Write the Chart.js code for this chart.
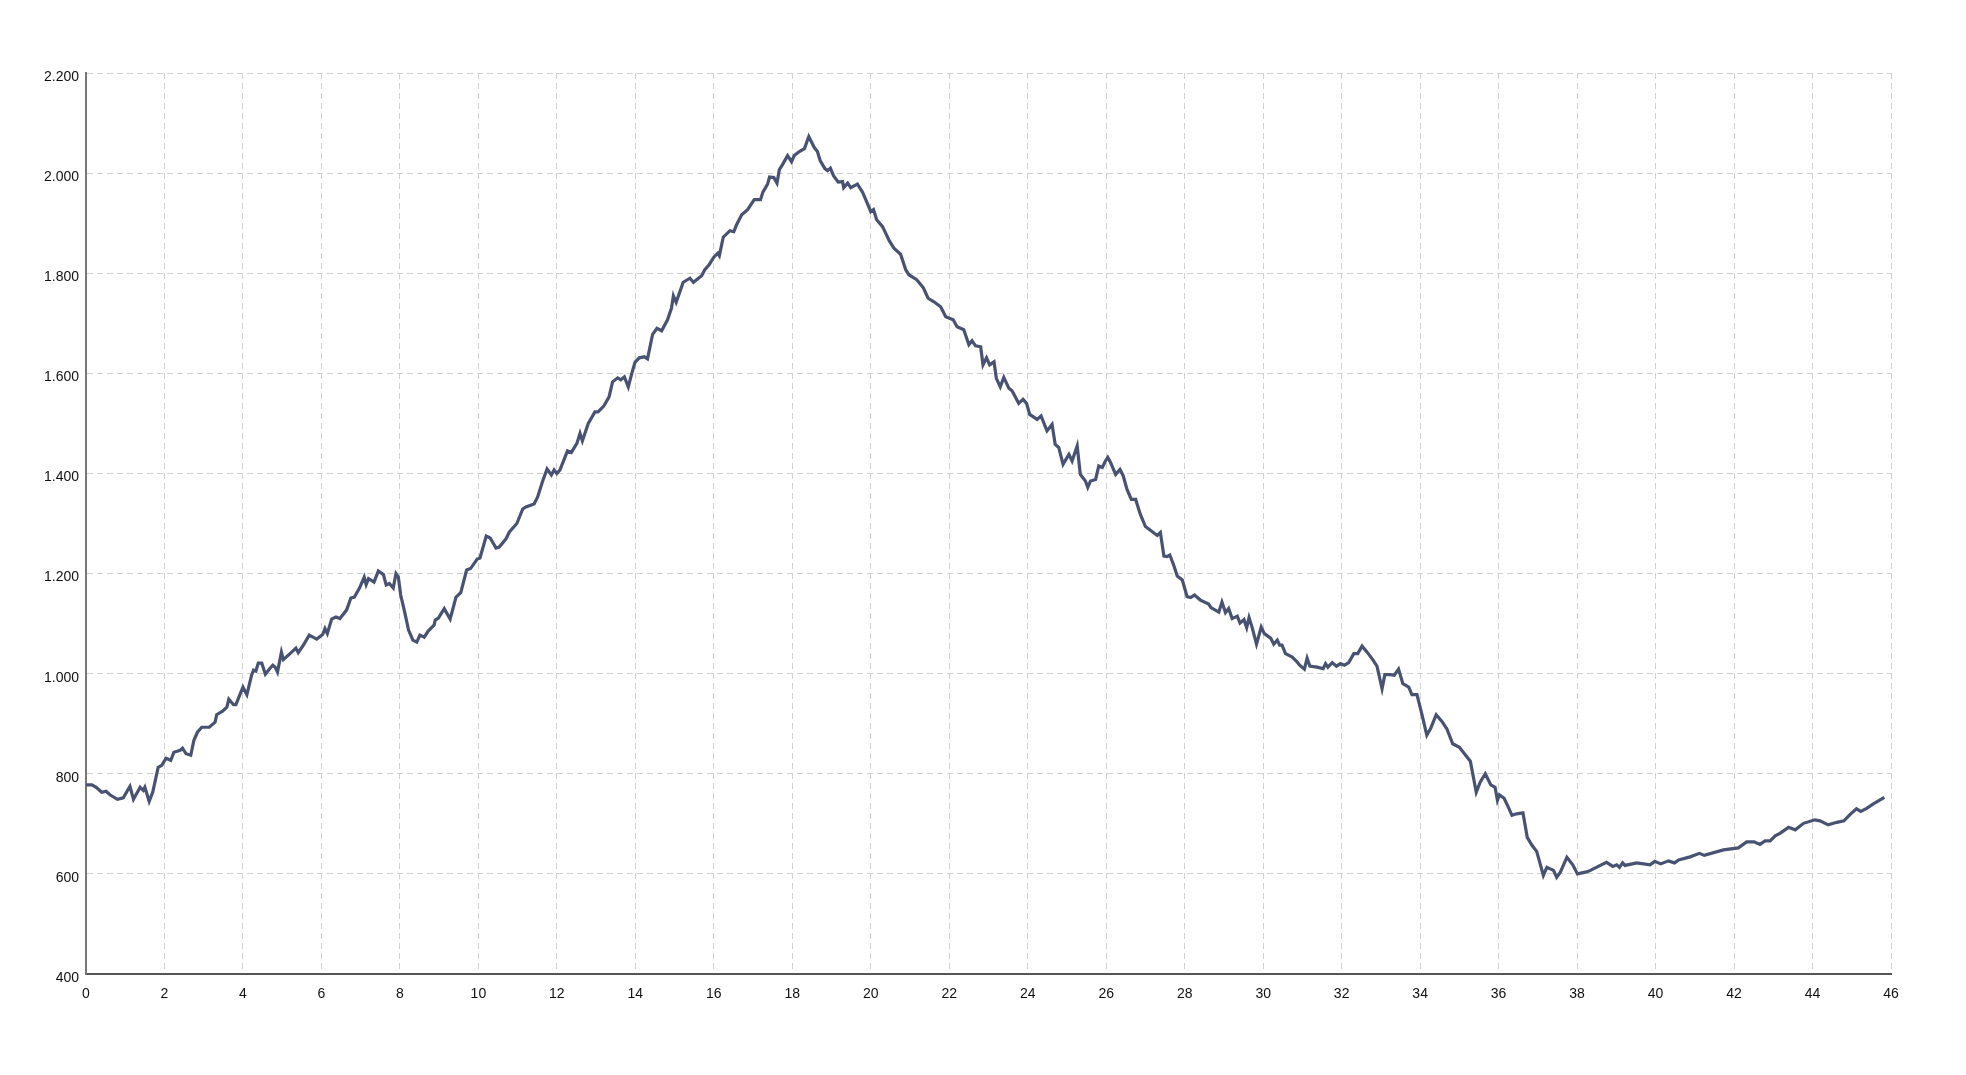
<!DOCTYPE html>
<html>
<head>
<meta charset="utf-8">
<style>
  html, body { margin: 0; padding: 0; background: #fff; }
  #wrap { width: 1966px; height: 1075px; }
</style>
<script src="https://cdn.jsdelivr.net/npm/chart.js@4.4.1/dist/chart.umd.min.js"></script>
</head>
<body>
<div id="wrap"><canvas id="profil"></canvas></div>
<script>
const distanceKm = [
  0, 0.15, 0.26, 0.4, 0.51, 0.61, 0.8, 0.95, 1.12, 1.21, 1.38, 1.46, 1.5, 1.61, 1.7, 1.84, 1.93,
  2.04, 2.16, 2.24, 2.4, 2.46, 2.55, 2.67, 2.75, 2.84, 2.95, 3.14, 3.29, 3.33, 3.48, 3.59, 3.64,
  3.76, 3.82, 4.0, 4.1, 4.22, 4.27, 4.33, 4.39, 4.48, 4.57, 4.69, 4.76, 4.82, 4.88, 4.98, 5.03,
  5.2, 5.35, 5.41, 5.54, 5.69, 5.88, 6.03, 6.09, 6.15, 6.26, 6.37, 6.47, 6.64, 6.75, 6.84, 6.97,
  7.09, 7.14, 7.2, 7.34, 7.45, 7.58, 7.65, 7.73, 7.83, 7.9, 7.96, 8.02, 8.13, 8.22, 8.33, 8.43,
  8.51, 8.62, 8.72, 8.87, 8.9, 8.98, 9.13, 9.28, 9.43, 9.55, 9.7, 9.8, 9.97, 10.04, 10.2, 10.3,
  10.45, 10.53, 10.7, 10.79, 10.98, 11.13, 11.21, 11.42, 11.51, 11.63, 11.75, 11.86, 11.93, 12.0,
  12.08, 12.27, 12.37, 12.51, 12.59, 12.65, 12.8, 12.97, 13.05, 13.2, 13.33, 13.42, 13.55, 13.63,
  13.72, 13.82, 13.9, 13.99, 14.1, 14.23, 14.31, 14.44, 14.55, 14.67, 14.82, 14.92, 14.97, 15.04,
  15.22, 15.39, 15.48, 15.69, 15.77, 15.88, 16.0, 16.1, 16.14, 16.24, 16.41, 16.51, 16.58, 16.71,
  16.86, 17.03, 17.19, 17.25, 17.37, 17.42, 17.53, 17.61, 17.67, 17.75, 17.88, 17.98, 18.05, 18.18,
  18.31, 18.42, 18.56, 18.64, 18.71, 18.83, 18.9, 18.97, 19.05, 19.17, 19.28, 19.31, 19.41, 19.49,
  19.66, 19.79, 19.92, 20.0, 20.07, 20.15, 20.3, 20.47, 20.59, 20.76, 20.89, 20.97, 21.17, 21.34,
  21.46, 21.61, 21.78, 21.91, 22.1, 22.2, 22.37, 22.5, 22.58, 22.67, 22.8, 22.86, 22.95, 23.03,
  23.14, 23.2, 23.3, 23.39, 23.52, 23.6, 23.77, 23.88, 23.97, 24.05, 24.24, 24.34, 24.49, 24.62,
  24.7, 24.79, 24.9, 25.05, 25.13, 25.26, 25.34, 25.47, 25.53, 25.6, 25.73, 25.81, 25.9, 25.98,
  26.04, 26.11, 26.24, 26.35, 26.43, 26.53, 26.64, 26.75, 26.87, 27.0, 27.15, 27.3, 27.38, 27.47,
  27.55, 27.62, 27.71, 27.81, 27.94, 28.06, 28.15, 28.25, 28.4, 28.61, 28.67, 28.87, 28.95, 29.04,
  29.12, 29.21, 29.34, 29.41, 29.51, 29.58, 29.64, 29.72, 29.83, 29.95, 30.03, 30.19, 30.27, 30.36,
  30.42, 30.48, 30.57, 30.74, 30.87, 30.93, 31.05, 31.12, 31.19, 31.37, 31.53, 31.59, 31.65, 31.76,
  31.87, 31.97, 32.07, 32.18, 32.31, 32.41, 32.52, 32.66, 32.8, 32.9, 33.03, 33.1, 33.24, 33.34,
  33.45, 33.56, 33.71, 33.79, 33.92, 34.05, 34.17, 34.27, 34.41, 34.55, 34.68, 34.83, 35.0, 35.11,
  35.28, 35.43, 35.53, 35.66, 35.8, 35.91, 35.97, 36.02, 36.14, 36.25, 36.34, 36.46, 36.62, 36.73,
  36.85, 36.97, 37.07, 37.14, 37.23, 37.4, 37.48, 37.57, 37.74, 37.89, 38.01, 38.24, 38.34, 38.54,
  38.75, 38.91, 39.01, 39.08, 39.16, 39.22, 39.52, 39.86, 39.98, 40.13, 40.33, 40.48, 40.59, 40.88,
  41.12, 41.24, 41.73, 42.11, 42.32, 42.51, 42.66, 42.79, 42.92, 43.05, 43.17, 43.39, 43.56, 43.77,
  44.06, 44.19, 44.4, 44.62, 44.8, 44.96, 45.12, 45.23, 45.38, 45.55, 45.83
];
const elevationM = [
  778, 778, 773, 763, 765, 758, 749, 752, 775, 749, 773, 767, 773, 745, 763, 813, 817,
  831, 827, 843, 847, 851, 840, 837, 867, 883, 893, 893, 903, 918, 925, 933, 949,
  938, 938, 973, 958, 997, 1007, 1005, 1021, 1021, 999, 1011, 1017, 1013, 1003, 1043, 1028,
  1040, 1051, 1042, 1057, 1077, 1069, 1078, 1090, 1080, 1109, 1113, 1110, 1127, 1151, 1153, 1171,
  1193, 1178, 1190, 1183, 1205, 1198, 1177, 1180, 1171, 1200, 1193, 1157, 1120, 1087, 1067, 1063,
  1077, 1073, 1085, 1097, 1107, 1111, 1130, 1109, 1153, 1162, 1207, 1210, 1229, 1231, 1275, 1271,
  1251, 1253, 1269, 1283, 1300, 1329, 1333, 1339, 1353, 1383, 1409, 1397, 1407, 1400,
  1407, 1445, 1442, 1460, 1480, 1465, 1500, 1523, 1523, 1535, 1553, 1583, 1591, 1587,
  1593, 1573, 1597, 1622, 1631, 1633, 1629, 1678, 1690, 1685, 1707, 1730, 1755, 1742,
  1782, 1790, 1782, 1795, 1807, 1817, 1832, 1840, 1835, 1872, 1885, 1883, 1897, 1917,
  1927, 1947, 1947, 1962, 1978, 1992, 1991, 1980, 2007, 2017, 2035, 2023, 2035, 2043,
  2049, 2073, 2051, 2043, 2025, 2009, 2005, 2010, 1995, 1982, 1983, 1971, 1980, 1971,
  1978, 1962, 1938, 1923, 1927, 1907, 1893, 1865, 1850, 1838, 1807, 1797, 1787, 1771,
  1750, 1743, 1733, 1713, 1707, 1693, 1687, 1657, 1665, 1655, 1653, 1617, 1631, 1617,
  1623, 1590, 1573, 1592, 1570, 1565, 1540, 1548, 1540, 1518, 1508, 1515, 1485, 1498,
  1458, 1452, 1418, 1438, 1425, 1455, 1398, 1385, 1372, 1385, 1388, 1415, 1412, 1425,
  1432, 1422, 1398, 1408, 1396, 1368, 1348, 1348, 1318, 1294, 1285, 1276, 1282, 1235,
  1234, 1237, 1219, 1195, 1187, 1154, 1152, 1157, 1147, 1139, 1132, 1123, 1143, 1122,
  1130, 1110, 1115, 1101, 1108, 1092, 1112, 1092, 1059, 1093, 1080, 1071, 1059, 1067,
  1057, 1057, 1040, 1033, 1023, 1017, 1009, 1031, 1015, 1013, 1010, 1020, 1013, 1022,
  1015, 1020, 1017, 1022, 1040, 1040, 1055, 1042, 1027, 1015, 970, 998, 998, 997,
  1009, 980, 973, 958, 958, 917, 877, 891, 918, 905, 890, 860, 853, 842,
  825, 763, 783, 800, 778, 773, 747, 758, 751, 733, 717, 720, 722, 673,
  657, 645, 617, 597, 613, 607, 593, 603, 633, 618, 600, 604, 607, 615,
  623, 615, 618, 613, 622, 617, 622, 618, 625, 620, 626, 622, 628, 634,
  641, 637, 648, 652, 664, 664, 659, 666, 666, 676, 681, 693, 688, 701,
  708, 706, 698, 703, 706, 719, 730, 725, 731, 740, 753
];
// Achsen
const xMin = 0, xMax = 46, xStep = 2;
const yMin = 400, yMax = 2200, yStep = 200;

// Tausenderpunkt wie im Original (2.200)
const formatDe = (v) => String(v).replace(/\B(?=(\d{3})+(?!\d))/g, '.');

const points = distanceKm.map((d, i) => ({ x: d, y: elevationM[i] }));

const tickFont = { family: 'Liberation Sans, Arial, sans-serif', size: 14 };

new Chart(document.getElementById('profil'), {
  type: 'line',
  data: {
    datasets: [{
      data: points,
      borderColor: '#485272',
      borderWidth: 3.2,
      pointRadius: 0,
      tension: 0,
      fill: false
    }]
  },
  options: {
    responsive: true,
    maintainAspectRatio: false,
    animation: false,
    layout: { padding: { left: 0, top: 73, right: 75, bottom: 0 } },
    plugins: { legend: { display: false }, tooltip: { enabled: false } },
    scales: {
      x: {
        type: 'linear',
        min: xMin,
        max: xMax,
        grid: { color: '#d0d0d0', lineWidth: 1, drawTicks: false },
        // in v4 steuert border.dash die Strichelung der Gitterlinien
        border: { display: true, color: '#555', width: 2, dash: [6, 4] },
        ticks: {
          stepSize: xStep,
          padding: 12,
          color: '#111',
          font: tickFont,
          maxRotation: 0
        },
        afterFit: (s) => { s.height = 101; }
      },
      y: {
        min: yMin,
        max: yMax,
        grid: { color: '#d0d0d0', lineWidth: 1, drawTicks: false },
        border: { display: true, color: '#777', width: 2, dash: [6, 4] },
        ticks: {
          stepSize: yStep,
          padding: 7,
          labelOffset: 4,
          color: '#111',
          font: tickFont,
          callback: (v) => formatDe(v)
        },
        afterFit: (s) => { s.width = 86; }
      }
    }
  }
});
</script>
</body>
</html>
